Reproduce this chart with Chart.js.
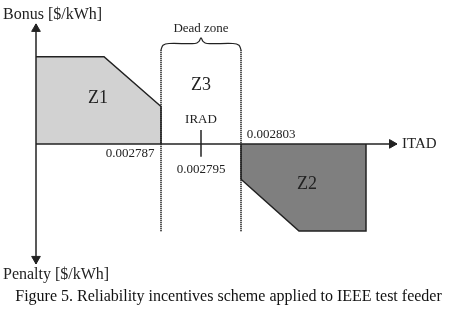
<!DOCTYPE html>
<html>
<head>
<meta charset="utf-8">
<script src="https://cdn.jsdelivr.net/npm/chart.js@4"></script>
<style>
  html, body { margin: 0; padding: 0; background: #fff; }
  #wrap { width: 457px; height: 312px; }
</style>
</head>
<body>
<div id="wrap"><canvas id="incentiveChart"></canvas></div>
<script>
// values (ITAD on x, bonus/penalty on y, arbitrary units)
var itadTicks = [0.002787, 0.002795, 0.002803];
var itadRange = [0.002762, 0.0028342];      // y axis position .. arrow tip
var incentiveRange = [-120.5, 120.5];       // penalty arrow .. bonus arrow

var z1X = [0.002762, 0.0027756, 0.002787, 0.002787];
var z1Bonus = [87.5, 87.5, 37.5, 0];
var z2X = [0.002803, 0.002803, 0.0028146, 0.002828, 0.002828];
var z2Penalty = [0, -35.5, -87.5, -87.5, 0];
var deadZoneTop = 94.5;
var deadZoneBottom = -88.5;

var zoneNames = ['Z1', 'Z3', 'Z2'];
var axisNames = ['Bonus [$/kWh]', 'Penalty [$/kWh]', 'ITAD'];

function pts(xs, ys) {
    return xs.map(function(x, i) { return { x: x, y: ys[i] }; });
}

var serif = '"Liberation Serif", "DejaVu Serif", serif';
var ink = '#222';

// brace over the dead zone
var braceX = [0.002787, 0.0027874, 0.0027886, 0.0027938, 0.0027946, 0.002795, 0.0027954, 0.0027962, 0.0028014, 0.0028026, 0.002803];
var braceY = [94.5, 99, 100.8, 100.8, 103, 106.5, 103, 100.8, 100.8, 99, 94.5];

// text placed on the diagram (data coordinates)
var notes = [
    { text: zoneNames[0], x: 0.0027744, y: 46, size: 18 },
    { text: zoneNames[1], x: 0.002795, y: 58.5, size: 18 },
    { text: zoneNames[2], x: 0.0028162, y: -41, size: 18 },
    { text: 'Dead zone', x: 0.002795, y: 115.5, size: 13 },
    { text: 'IRAD', x: 0.002795, y: 24.5, size: 13 },
    { text: itadTicks[0].toFixed(6), x: 0.0027808, y: -9.5, size: 13 },
    { text: itadTicks[1].toFixed(6), x: 0.002795, y: -25.5, size: 13 },
    { text: itadTicks[2].toFixed(6), x: 0.002809, y: 9.5, size: 13 },
    { text: axisNames[2], x: 0.0028352, y: -0.5, size: 15, align: 'left' },
    { text: axisNames[0], x: 0.0027554, y: 130, size: 16, align: 'left' },
    { text: axisNames[1], x: 0.0027554, y: -131.5, size: 16, align: 'left' }
];

var notesPlugin = {
    id: 'notes',
    afterDraw: function(chart) {
        var ctx = chart.ctx;
        var sx = chart.scales.x, sy = chart.scales.y;
        ctx.save();
        ctx.fillStyle = ink;
        ctx.textBaseline = 'middle';
        notes.forEach(function(n) {
            ctx.font = n.size + 'px ' + serif;
            ctx.textAlign = n.align || 'center';
            ctx.fillText(n.text, sx.getPixelForValue(n.x), sy.getPixelForValue(n.y));
        });
        ctx.restore();
    }
};

var ctx = document.getElementById('incentiveChart').getContext('2d');
var incentiveChart = new Chart(ctx, {
    type: 'scatter',
    data: {
        datasets: [{
            // Z1 bonus zone
            data: pts(z1X, z1Bonus),
            showLine: true,
            fill: 'origin',
            backgroundColor: '#d2d2d2',
            borderColor: ink,
            borderWidth: 1.5,
            pointRadius: 0,
            order: 5
        }, {
            // Z2 penalty zone
            data: pts(z2X, z2Penalty),
            showLine: true,
            fill: 'origin',
            backgroundColor: '#7f7f7f',
            borderColor: ink,
            borderWidth: 1.5,
            pointRadius: 0,
            order: 5
        }, {
            // dead zone bounds
            data: [{ x: itadTicks[0], y: deadZoneTop }, { x: itadTicks[0], y: deadZoneBottom }],
            showLine: true,
            borderColor: ink,
            borderWidth: 2,
            borderDash: [1, 1],
            pointRadius: 0,
            order: 4
        }, {
            data: [{ x: itadTicks[2], y: deadZoneTop }, { x: itadTicks[2], y: deadZoneBottom }],
            showLine: true,
            borderColor: ink,
            borderWidth: 2,
            borderDash: [1, 1],
            pointRadius: 0,
            order: 4
        }, {
            // brace
            data: pts(braceX, braceY),
            showLine: true,
            tension: 0.35,
            borderColor: ink,
            borderWidth: 1.2,
            pointRadius: 0,
            order: 4
        }, {
            // IRAD marker
            data: [{ x: itadTicks[1], y: 14 }, { x: itadTicks[1], y: -13 }],
            showLine: true,
            borderColor: ink,
            borderWidth: 1.5,
            pointRadius: 0,
            order: 3
        }, {
            // y axis
            data: [{ x: itadRange[0], y: incentiveRange[1] }, { x: itadRange[0], y: incentiveRange[0] }],
            showLine: true,
            borderColor: ink,
            borderWidth: 1.5,
            pointRadius: 0,
            order: 2
        }, {
            // x axis
            data: [{ x: itadRange[0], y: 0 }, { x: itadRange[1], y: 0 }],
            showLine: true,
            borderColor: ink,
            borderWidth: 1.5,
            pointRadius: 0,
            order: 2
        }, {
            // arrow heads
            data: [
                { x: itadRange[0], y: incentiveRange[1] - 5 },
                { x: itadRange[0], y: incentiveRange[0] + 5 },
                { x: itadRange[1] - 0.000001, y: 0 }
            ],
            showLine: false,
            pointStyle: 'triangle',
            pointRadius: 5,
            pointRotation: [0, 180, 90],
            pointBackgroundColor: ink,
            pointBorderColor: ink,
            pointBorderWidth: 1,
            order: 1
        }]
    },
    options: {
        responsive: true,
        maintainAspectRatio: false,
        animation: false,
        events: [],
        layout: { padding: 0, autoPadding: false },
        scales: {
            x: { type: 'linear', display: false, min: 0.0027548, max: 0.0028462 },
            y: { type: 'linear', display: false, min: -143.5, max: 144.5 }
        },
        plugins: {
            legend: { display: false },
            tooltip: { enabled: false },
            title: {
                display: true,
                position: 'bottom',
                text: 'Figure 5. Reliability incentives scheme applied to IEEE test feeder',
                color: '#111',
                font: { family: serif, size: 16, weight: 'normal' },
                padding: { top: 0, bottom: 6 }
            }
        }
    },
    plugins: [notesPlugin]
});
</script>
</body>
</html>
